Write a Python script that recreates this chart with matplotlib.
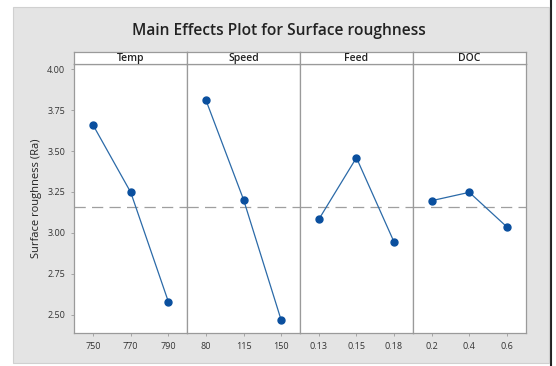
import matplotlib
matplotlib.use("Agg")
import matplotlib.pyplot as plt
from matplotlib.patches import Rectangle
from matplotlib.lines import Line2D

plt.rcParams['font.family'] = ['Open Sans', 'DejaVu Sans']

factors = ["Temp", "Speed", "Feed", "DOC"]
temp_levels = ["750", "770", "790"]
speed_levels = ["80", "115", "150"]
feed_levels = ["0.13", "0.15", "0.18"]
doc_levels = ["0.2", "0.4", "0.6"]

temp_means = [3.658, 3.248, 2.581]
speed_means = [3.810, 3.203, 2.468]
feed_means = [3.083, 3.459, 2.945]
doc_means = [3.197, 3.248, 3.037]

grand_mean = 3.161
yticks = [2.50, 2.75, 3.00, 3.25, 3.50, 3.75, 4.00]

levels = [temp_levels, speed_levels, feed_levels, doc_levels]
means = [temp_means, speed_means, feed_means, doc_means]

W, H = 556, 366
fig = plt.figure(figsize=(W/100, H/100), dpi=100)
fig.patch.set_facecolor("white")

# gray background panel behind everything
fig.patches.append(Rectangle((12.7/W, 1-363/H), (549-12.7)/W, (363-7)/H,
                             transform=fig.transFigure, facecolor="#e4e4e4",
                             edgecolor="#d0d0d0", lw=0.8, zorder=-10))
fig.lines.append(Line2D([551/W, 551/W], [0, 1], transform=fig.transFigure,
                        color="#222222", lw=1.5, zorder=-10))

left, right = 74.3/W, 525.7/W
bottom, top = 1-333.3/H, 1-64.3/H
strip_h = 12/H
pw = (right-left)/4
edge = "#9a9a9a"
line_c = "#2b6aa8"
mark_c = "#0a4f9e"

for i, (name, lev, m) in enumerate(zip(factors, levels, means)):
    ax = fig.add_axes([left+i*pw, bottom, pw, top-bottom])
    ax.set_facecolor("white")
    ax.plot(range(len(lev)), m, color=line_c, lw=0.9, marker="o",
            markersize=5, markerfacecolor=mark_c, markeredgecolor=mark_c, zorder=3)
    ax.axhline(grand_mean, color="#9f9f9f", lw=0.9, dashes=(9, 5), zorder=2)
    ax.set_xlim(-0.5, 2.5)
    ax.set_ylim(2.388, 4.029)
    ax.set_xticks(range(len(lev)))
    ax.set_xticklabels(lev)
    ax.set_yticks(yticks)
    ax.tick_params(axis="both", length=2.5, width=0.6, color=edge,
                   labelsize=6.5, labelcolor="#333333", pad=4)
    if i == 0:
        ax.set_yticklabels([f"{v:.2f}" for v in yticks])
    else:
        ax.tick_params(axis="y", left=False, labelleft=False)
    for s in ax.spines.values():
        s.set_color(edge)
        s.set_linewidth(0.9)

    sax = fig.add_axes([left+i*pw, top, pw, strip_h])
    sax.set_facecolor("white")
    sax.set_xticks([])
    sax.set_yticks([])
    for s in sax.spines.values():
        s.set_color(edge)
        s.set_linewidth(0.9)
    sax.text(0.5, 0.5, name, ha="center", va="center", fontsize=7.5,
             fontweight="semibold", color="#222222", transform=sax.transAxes)

fig.text(279/W, 1-31/H, "Main Effects Plot for Surface roughness", ha="center",
         va="center", fontsize=11.2, fontweight="semibold", color="#222222")
fig.text(37/W, 1-198/H, "Surface roughness (Ra)", ha="center", va="center",
         rotation=90, fontsize=8, color="#222222")

fig.savefig("out.png", dpi=100)
